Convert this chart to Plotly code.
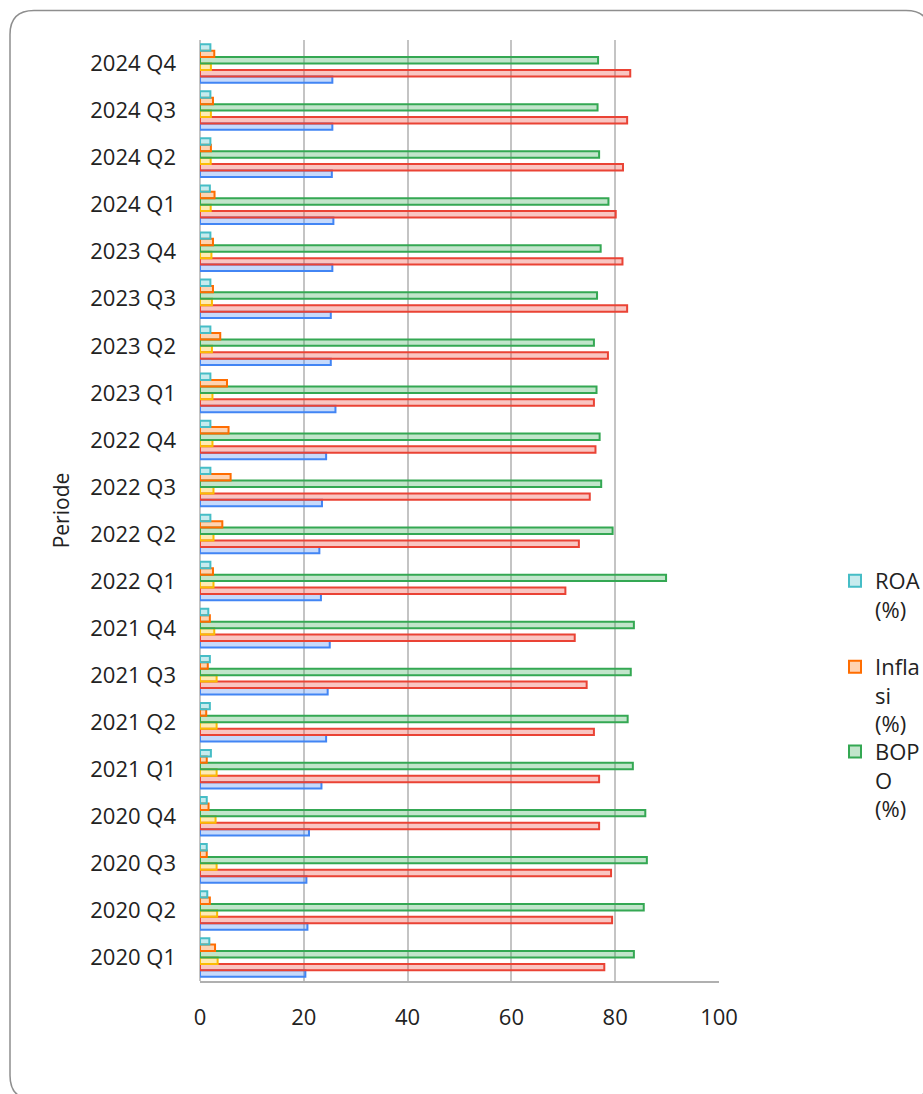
import plotly.graph_objects as go

periods = ["2020 Q1", "2020 Q2", "2020 Q3", "2020 Q4",
           "2021 Q1", "2021 Q2", "2021 Q3", "2021 Q4",
           "2022 Q1", "2022 Q2", "2022 Q3", "2022 Q4",
           "2023 Q1", "2023 Q2", "2023 Q3", "2023 Q4",
           "2024 Q1", "2024 Q2", "2024 Q3", "2024 Q4"]

car = [20.3, 20.7, 20.5, 21.0, 23.4, 24.3, 24.6, 25.0, 23.3, 23.0,
       23.5, 24.3, 26.1, 25.2, 25.2, 25.5, 25.7, 25.4, 25.5, 25.5]
ldr = [77.9, 79.4, 79.2, 76.9, 76.9, 75.9, 74.5, 72.2, 70.4, 73.0,
       75.1, 76.2, 75.9, 78.6, 82.3, 81.4, 80.1, 81.5, 82.3, 82.9]
npl = [3.4, 3.3, 3.2, 3.0, 3.2, 3.2, 3.2, 2.75, 2.6, 2.6,
       2.6, 2.4, 2.4, 2.3, 2.3, 2.2, 2.06, 2.06, 2.1, 2.1]
bopo = [83.6, 85.5, 86.1, 85.8, 83.4, 82.4, 83.0, 83.6, 89.8, 79.5,
        77.3, 77.0, 76.4, 75.9, 76.5, 77.2, 78.7, 76.9, 76.6, 76.7]
inflasi = [2.9, 1.9, 1.3, 1.65, 1.3, 1.2, 1.5, 1.9, 2.5, 4.3,
           5.9, 5.5, 5.2, 3.9, 2.5, 2.5, 2.8, 2.1, 2.5, 2.75]
roa = [1.8, 1.4, 1.3, 1.3, 2.1, 1.9, 1.9, 1.6, 2.0, 2.0,
       2.0, 2.0, 2.0, 2.0, 2.0, 2.0, 1.9, 2.0, 2.0, 2.0]

x_ticks = [0, 20, 40, 60, 80, 100]

W, H = 923, 1094
PL, PR, PT, PB = 200, 719, 39.5, 981.5


def px_x(px):
    return (px - PL) / (PR - PL)


def px_y(py):
    return 1 - (py - PT) / (PB - PT)


FONT = "Open Sans"
TXT = "#222222"

series = [
    ("CAR (%)", car, "66,133,244", False, None),
    ("LDR (%)", ldr, "234,67,53", False, None),
    ("NPL (%)", npl, "251,188,4", False, None),
    ("BOP<br>O<br>(%)", bopo, "52,168,83", True, "legend3"),
    ("Infla<br>si<br>(%)", inflasi, "255,109,1", True, "legend2"),
    ("ROA<br>(%)", roa, "70,189,198", True, "legend"),
]

fig = go.Figure()
for name, vals, rgb, show, leg in series:
    kw = dict(legend=leg) if leg else {}
    fig.add_trace(go.Bar(
        y=periods, x=vals, orientation="h", name=name,
        marker=dict(color=f"rgba({rgb},0.3)",
                    line=dict(color=f"rgb({rgb})", width=2)),
        showlegend=show, **kw))

leg_common = dict(font=dict(family=FONT, size=22, color=TXT),
                  xanchor="left", yanchor="top", valign="top",
                  bgcolor="rgba(0,0,0,0)", borderwidth=0)

LX = 835
fig.update_layout(
    width=W, height=H,
    margin=dict(l=PL, r=W - PR, t=PT, b=H - PB, autoexpand=False),
    paper_bgcolor="white", plot_bgcolor="white",
    barmode="group", bargap=0.18, bargroupgap=0,
    font=dict(family=FONT, size=22, color=TXT),
    xaxis=dict(range=[0, 100], tickvals=x_ticks, showgrid=True,
               gridcolor="#c4c4c4", gridwidth=1.5, zeroline=True,
               zerolinecolor="#c4c4c4", zerolinewidth=1.5,
               showline=True, linecolor="#b0b0b0", linewidth=1.5,
               ticks="", ticklabelstandoff=16,
               tickfont=dict(family=FONT, size=22, color=TXT)),
    yaxis=dict(type="category", categoryorder="array", categoryarray=periods,
               showgrid=False, ticks="", ticklabelstandoff=23,
               tickfont=dict(family=FONT, size=22, color=TXT),
               title=dict(text="Periode", standoff=14,
                          font=dict(family=FONT, size=21, color=TXT))),
    legend=dict(x=px_x(LX), y=px_y(560), **leg_common),
    legend2=dict(x=px_x(LX), y=px_y(646), **leg_common),
    legend3=dict(x=px_x(LX), y=px_y(731), **leg_common),
)

# rounded chart-area border
x0, y0, x1, y1, r = 10, 10, 930, 1100, 24
path = (f"M {px_x(x0 + r)},{px_y(y0)} L {px_x(x1 - r)},{px_y(y0)} "
        f"Q {px_x(x1)},{px_y(y0)} {px_x(x1)},{px_y(y0 + r)} "
        f"L {px_x(x1)},{px_y(y1 - r)} "
        f"Q {px_x(x1)},{px_y(y1)} {px_x(x1 - r)},{px_y(y1)} "
        f"L {px_x(x0 + r)},{px_y(y1)} "
        f"Q {px_x(x0)},{px_y(y1)} {px_x(x0)},{px_y(y1 - r)} "
        f"L {px_x(x0)},{px_y(y0 + r)} "
        f"Q {px_x(x0)},{px_y(y0)} {px_x(x0 + r)},{px_y(y0)} Z")
fig.add_shape(type="path", path=path, xref="paper", yref="paper",
              line=dict(color="#8e8e8e", width=1.5), fillcolor="rgba(0,0,0,0)",
              layer="below")

fig.write_html("out.html",
               config={"displayModeBar": False},
               post_script="document.body.style.margin='0px';"
                           "document.body.style.overflow='hidden';")
